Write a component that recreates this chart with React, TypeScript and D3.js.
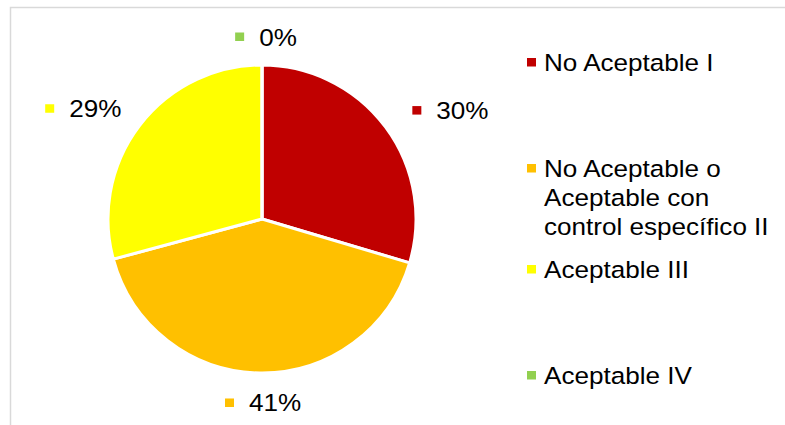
import React, { useEffect, useRef } from "react";
import * as d3 from "d3";

const categories = [
  "No Aceptable I",
  "No Aceptable o Aceptable con control específico II",
  "Aceptable III",
  "Aceptable IV",
];
const values = [29.6, 41.2, 29.2, 0];
const colors = ["#C00000", "#FFC000", "#FFFF00", "#92D050"];

const W = 785;
const H = 425;
const FONT = "'Liberation Sans', Arial, sans-serif";
const FS = 23.5;
const SX = 1.11; // text in the picture is a bit wider than plain Arial

const measure = (() => {
  const ctx = document.createElement("canvas").getContext("2d")!;
  return (s: string) => {
    ctx.font = `${FS}px ${FONT}`;
    return ctx.measureText(s).width * SX;
  };
})();

function wrap(text: string, maxW: number) {
  const words = text.split(" ");
  const lines: string[] = [];
  let cur = "";
  words.forEach((w) => {
    const t = cur ? cur + " " + w : w;
    if (cur && measure(t) > maxW) {
      lines.push(cur);
      cur = w;
    } else cur = t;
  });
  if (cur) lines.push(cur);
  return lines;
}

const App: React.FC = () => {
  const svgRef = useRef<SVGSVGElement | null>(null);

  useEffect(() => {
    if (!svgRef.current) return;
    const svg = d3.select(svgRef.current);
    svg.selectAll("*").remove();

    // chart area border (only top and left edges are in view)
    svg
      .append("rect")
      .attr("x", 10.5)
      .attr("y", 7.5)
      .attr("width", 900)
      .attr("height", 600)
      .attr("fill", "none")
      .attr("stroke", "#d9d9d9")
      .attr("stroke-width", 1.5);

    const cx = 262;
    const cy = 219;
    const r = 154;

    const pie = d3
      .pie<number>()
      .sort(null)
      .value((d) => d);
    const arc = d3.arc<d3.PieArcDatum<number>>().innerRadius(0).outerRadius(r);
    const arcs = pie(values);

    const g = svg.append("g").attr("transform", `translate(${cx},${cy})`);
    g.selectAll("path")
      .data(arcs)
      .enter()
      .append("path")
      .attr("d", (d) => arc(d)!)
      .attr("fill", (d, i) => colors[i])
      .attr("stroke", "#fff")
      .attr("stroke-width", 3)
      .attr("stroke-linejoin", "round");

    const total = d3.sum(values);
    const addText = (
      sel: d3.Selection<any, unknown, null, undefined>,
      x: number,
      y: number,
      s: string
    ) =>
      sel
        .append("text")
        .attr("transform", `translate(${x},${y}) scale(${SX},1)`)
        .attr("font-family", FONT)
        .attr("font-size", FS)
        .attr("fill", "#000")
        .text(s);

    // data labels, outside end
    arcs.forEach((d, i) => {
      const label = Math.round((d.data / total) * 100) + "%";
      const w = 24 + measure(label);
      const a = (d.startAngle + d.endAngle) / 2;
      const lx = cx + 4 + Math.sin(a) * (r + 38 + w / 2);
      const ly = cy + 1.5 - Math.cos(a) * (r + 17 + 12);
      const left = lx - w / 2;
      const base = ly + 8;
      svg
        .append("rect")
        .attr("x", left)
        .attr("y", base - 13)
        .attr("width", 9)
        .attr("height", 8.5)
        .attr("fill", colors[i]);
      addText(svg, left + 24, base, label);
    });

    // legend
    const legendX = 527;
    const legendBase = [71, 177, 278, 384];
    const lineH = 29;
    categories.forEach((c, i) => {
      const lines = wrap(c, 236);
      svg
        .append("rect")
        .attr("x", legendX)
        .attr("y", legendBase[i] - 13)
        .attr("width", 9)
        .attr("height", 8.5)
        .attr("fill", colors[i]);
      lines.forEach((ln, j) => addText(svg, legendX + 17, legendBase[i] + j * lineH, ln));
    });
  }, []);

  return (
    <div style={{ position: "absolute", left: 0, top: 0 }}>
      <svg ref={svgRef} width={W} height={H} style={{ display: "block", background: "#fff" }}></svg>
    </div>
  );
};

export default App;
